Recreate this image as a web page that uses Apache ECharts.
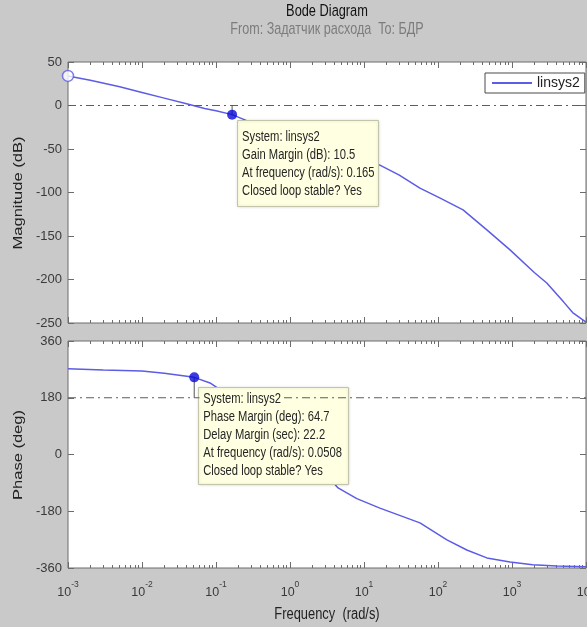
<!DOCTYPE html>
<html><head><meta charset="utf-8">
<script src="https://cdn.jsdelivr.net/npm/echarts@6/dist/echarts.min.js"></script>
<style>html,body{margin:0;padding:0;background:#c9c9c9}#c{width:587px;height:627px}</style>
</head><body><div id="c"></div>
<script>
// ---- data ----
const magFreq = [0.001, 0.002, 0.005, 0.01, 0.02, 0.04, 0.07, 0.1, 0.165, 0.27, 0.5, 1, 2, 4, 8, 16.4, 30, 57, 107, 218, 457, 940, 2000, 2950, 5000, 6600, 10000];
const magDb   = [34, 29, 21.5, 15, 8.5, 2, -3.5, -6, -10.5, -18, -25.5, -34, -42.5, -51, -59.5, -68.5, -80, -95, -106.5, -120, -143, -166, -192, -204, -226, -238, -249];
const phaseFreq = [0.001, 0.003, 0.01, 0.02, 0.0508, 0.083, 0.165, 0.3, 0.6, 1, 2, 3, 4.46, 8, 16.4, 57, 132, 245, 457, 940, 1900, 4000, 10000];
const phaseDeg  = [272, 268, 265, 258, 244.7, 227, 180, 140, 85, 45, -15, -60, -106, -140, -170, -217, -271, -303, -328, -341, -350, -354, -356];
const sysName = 'linsys2';
const gmFreq = 0.165, gmMag = -10.5, gainMargin = 10.5;
const pmFreq = 0.0508, pmPhase = 244.7, phaseMargin = 64.7, delayMargin = 22.2;
const magRef = 0, phaseRef = 180;
const magAxis = {min: -250, max: 50, interval: 50};
const phaseAxis = {min: -360, max: 360, interval: 180};
const freqAxis = {min: 0.001, max: 10000};
const titleText = 'Bode Diagram';
const subTitleText = 'From: Задатчик расхода  To: БДР';
const xName = 'Frequency  (rad/s)';
const magName = 'Magnitude (dB)';
const phaseName = 'Phase (deg)';

// minor tick positions (log10 space) of the log axis
const minorLog = [];
for (let k = Math.log10(freqAxis.min); k < Math.log10(freqAxis.max); k++) {
  for (let m = 2; m <= 9; m++) minorLog.push(k + Math.log10(m));
}

const FONT = '"Liberation Sans", Arial, sans-serif';
const BORDER = '#6c6c6c';
const LINE = '#5c5ce6';
const DOT = '#0a0ad8';
const LABEL = '#3a3a3a';
const SY = 1.27; // vertical stretch of the reference's lettering
const tipFill = '#ffffe1';
const TIP_SIZE = 11.2;

const G0 = {left: 68, top: 62, width: 518, height: 261};
const G1 = {left: 68, top: 341, width: 518, height: 227};

function logX(grid, pos, showLabel) {
  return {
    type: 'log', logBase: 10, gridIndex: grid, position: pos,
    min: freqAxis.min, max: freqAxis.max, interval: 1,
    axisLine: {show: false, onZero: false}, splitLine: {show: false},
    axisTick: {show: true, inside: true, length: 6, lineStyle: {color: BORDER}},
    axisLabel: showLabel ? {
      show: true, margin: 12, showMaxLabel: true, showMinLabel: true, alignMaxLabel: 'center', alignMinLabel: 'center',
      formatter: v => '{b|10}{s|' + Math.round(Math.log10(v)) + '}',
      rich: {
        b: {fontFamily: FONT, fontSize: 12.5, color: LABEL},
        s: {fontFamily: FONT, fontSize: 8.5, color: LABEL, padding: [0, 0, 16, 0]}
      }
    } : {show: false}
  };
}
function minorX(grid, pos) {
  return {
    type: 'value', gridIndex: grid, position: pos,
    min: Math.log10(freqAxis.min), max: Math.log10(freqAxis.max),
    axisLine: {show: false, onZero: false}, splitLine: {show: false}, axisLabel: {show: false},
    axisTick: {show: true, inside: true, length: 3, customValues: minorLog, lineStyle: {color: BORDER}}
  };
}
function yAx(grid, pos, r, showLabel) {
  return {
    type: 'value', gridIndex: grid, position: pos,
    min: r.min, max: r.max, interval: r.interval,
    axisLine: {show: false, onZero: false}, splitLine: {show: false},
    axisTick: {show: true, inside: true, length: 6, lineStyle: {color: BORDER}},
    axisLabel: showLabel ? {show: true, margin: 6, fontFamily: FONT, fontSize: 13, color: LABEL} : {show: false}
  };
}
const zip = (a, b) => a.map((v, i) => [v, b[i]]);

// width of the first datatip line (clamped so the mask can never cover the whole box)
const measureCtx = document.createElement('canvas').getContext('2d');
measureCtx.font = TIP_SIZE + 'px ' + FONT;
let firstLineW = measureCtx.measureText('System: ' + sysName).width;
if (!(firstLineW > 40 && firstLineW < 90)) firstLineW = 78;

// datatip box drawn by a custom series, anchored at the marked data point
function tipSeries(xi, yi, point, dx, dy, w, h, z, plain) {
  return {
    name: 'tip', type: 'custom', xAxisIndex: xi, yAxisIndex: yi, z: z, clip: false, silent: true,
    data: [point],
    renderItem: (params, api) => {
      const p = api.coord([api.value(0), api.value(1)]);
      return {type: 'rect', shape: {x: Math.round(p[0] + dx) + 0.5, y: Math.round(p[1] + dy) + 0.5, width: w, height: h},
              style: plain ? {fill: tipFill} : {fill: tipFill, stroke: '#c4c4aa', lineWidth: 1, shadowBlur: 3, shadowColor: 'rgba(0,0,0,0.15)'}};
    }
  };
}

const chart = echarts.init(document.getElementById('c'), null, {renderer: 'canvas'});
const gridBase = {show: true, backgroundColor: '#ffffff', borderColor: BORDER, borderWidth: 1, outerBoundsMode: 'none', containLabel: false};
const refStyle = {color: '#5e5e5e', width: 1.2, type: [8, 4, 2, 4]};
chart.setOption({
  animation: false,
  backgroundColor: '#c9c9c9',
  grid: [Object.assign({}, gridBase, G0), Object.assign({}, gridBase, G1)],
  xAxis: [
    logX(0, 'bottom', false), logX(0, 'top', false), minorX(0, 'bottom'), minorX(0, 'top'),
    logX(1, 'bottom', true), logX(1, 'top', false), minorX(1, 'bottom'), minorX(1, 'top')
  ],
  yAxis: [
    yAx(0, 'left', magAxis, true), yAx(0, 'right', magAxis, false),
    yAx(1, 'left', phaseAxis, true), yAx(1, 'right', phaseAxis, false)
  ],
  legend: {
    data: [sysName], left: 485, top: 73, padding: [3, 5, 3, 7], itemGap: 0,
    itemWidth: 40, itemHeight: 2, icon: 'rect',
    itemStyle: {color: LINE, borderWidth: 0},
    backgroundColor: '#ffffff', borderColor: '#4a4a4a', borderWidth: 1,
    textStyle: {fontFamily: FONT, fontSize: 14, color: '#222'}, z: 40
  },
  series: [
    {name: sysName, type: 'line', xAxisIndex: 0, yAxisIndex: 0, data: zip(magFreq, magDb),
     symbol: 'none', lineStyle: {color: LINE, width: 1.5}, itemStyle: {color: LINE}, z: 2},
    {name: sysName, type: 'line', xAxisIndex: 4, yAxisIndex: 2, data: zip(phaseFreq, phaseDeg),
     symbol: 'none', lineStyle: {color: LINE, width: 1.5}, itemStyle: {color: LINE}, z: 2},
    tipSeries(0, 0, [gmFreq, gmMag], 5, 5, 141, 86, 10, false),
    tipSeries(4, 2, [pmFreq, pmPhase], 4, 10, 150, 97, 10, false),
    // small patch behind the first datatip line so the 180° line stops at the text
    tipSeries(4, 2, [pmFreq, pmPhase], 5, 15, Math.ceil(firstLineW) + 6, 13, 22, true),
    {name: 'magRef', type: 'line', xAxisIndex: 0, yAxisIndex: 0, symbol: 'none', z: 20, clip: false,
     data: [[freqAxis.min, magRef], [freqAxis.max, magRef]], lineStyle: refStyle},
    {name: 'phaseRef', type: 'line', xAxisIndex: 4, yAxisIndex: 2, symbol: 'none', z: 20, clip: false,
     data: [[freqAxis.min, phaseRef], [freqAxis.max, phaseRef]], lineStyle: refStyle},
    {name: 'gmLink', type: 'line', xAxisIndex: 0, yAxisIndex: 0, symbol: 'none', z: 20,
     data: [[gmFreq, magRef], [gmFreq, gmMag]], lineStyle: {color: '#555', width: 1}},
    {name: 'pmLink', type: 'line', xAxisIndex: 4, yAxisIndex: 2, symbol: 'none', z: 20,
     data: [[pmFreq, phaseRef], [pmFreq, pmPhase]], lineStyle: {color: '#555', width: 1}},
    {name: 'start', type: 'scatter', xAxisIndex: 0, yAxisIndex: 0, z: 25,
     data: [[magFreq[0], magDb[0]]], symbolSize: 11,
     itemStyle: {color: '#ffffff', borderColor: LINE, borderWidth: 1.5}},
    {name: 'gmDot', type: 'scatter', xAxisIndex: 0, yAxisIndex: 0, z: 25,
     data: [[gmFreq, gmMag]], symbolSize: 10, itemStyle: {color: DOT}},
    {name: 'pmDot', type: 'scatter', xAxisIndex: 4, yAxisIndex: 2, z: 25,
     data: [[pmFreq, pmPhase]], symbolSize: 10, itemStyle: {color: DOT}}
  ]
});

const gmPx = chart.convertToPixel({xAxisIndex: 0, yAxisIndex: 0}, [gmFreq, gmMag]);
const pmPx = chart.convertToPixel({xAxisIndex: 4, yAxisIndex: 2}, [pmFreq, pmPhase]);

function stretchedText(text, x, y, size, fill, align) {
  return {type: 'text', zlevel: 1, z: 60, x: x, y: y, scaleY: SY,
          style: {text: text, x: 0, y: 0, align: align || 'left', verticalAlign: 'middle', font: size + 'px ' + FONT, fill: fill}};
}
function tipText(x, y, lines, firstOffset) {
  return lines.map((t, i) => stretchedText(t, x + 5, y + firstOffset + i * 18, TIP_SIZE, '#262626', 'left'));
}

const graphics = [
  stretchedText(titleText, 327, 12, 12.8, '#111', 'center'),
  stretchedText(subTitleText, 327, 30, 12.6, '#7c7c7c', 'center'),
  stretchedText(xName, 327, 614, 12.9, '#222', 'center'),
  {type: 'text', zlevel: 1, z: 60, x: 18, y: 193, rotation: Math.PI / 2, scaleX: SY,
   style: {text: magName, x: 0, y: 0, align: 'center', verticalAlign: 'middle', font: '13px ' + FONT, fill: '#222'}},
  {type: 'text', zlevel: 1, z: 60, x: 18, y: 455, rotation: Math.PI / 2, scaleX: SY,
   style: {text: phaseName, x: 0, y: 0, align: 'center', verticalAlign: 'middle', font: '13px ' + FONT, fill: '#222'}}
].concat(
  tipText(gmPx[0] + 5, gmPx[1] + 5, [
    'System: ' + sysName,
    'Gain Margin (dB): ' + gainMargin,
    'At frequency (rad/s): ' + gmFreq,
    'Closed loop stable? Yes'], 17),
  tipText(pmPx[0] + 4, pmPx[1] + 10, [
    'System: ' + sysName,
    'Phase Margin (deg): ' + phaseMargin,
    'Delay Margin (sec): ' + delayMargin,
    'At frequency (rad/s): ' + pmFreq,
    'Closed loop stable? Yes'], 12)
);
chart.setOption({graphic: {elements: graphics}});
</script>
</body></html>
